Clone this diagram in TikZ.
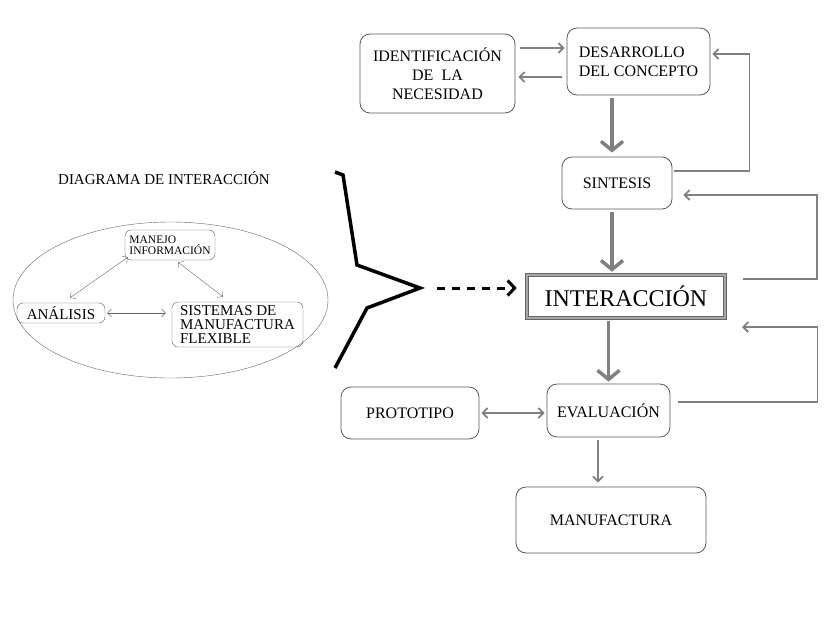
\documentclass[tikz,border=0pt]{standalone}
\usepackage{fontspec}
\setmainfont{Liberation Serif}
\usetikzlibrary{arrows.meta}
\begin{document}
\begin{tikzpicture}[x=1pt, y=-1pt, >={Straight Barb[length=5pt,width=10pt]},
  box/.style={draw=black!65, thick, rounded corners=10pt, align=center, inner sep=2pt, font=\fontsize{16}{19}\selectfont},
  smallbox/.style={draw=black!65, rounded corners=6pt, align=left, inner sep=1pt, font=\fontsize{15}{15}\selectfont},
  dline/.style={draw=gray, line width=1.8pt},
  bigflow/.style={draw=gray, line width=3.5pt, -{Straight Barb[length=9pt,width=22pt,line width=3.5pt]}},
  sarrow/.style={draw=black!60, <->, >={Straight Barb[length=4pt,width=8pt]}}]
\useasboundingbox (0,0) rectangle (831,625);

% main flow
\node (ident) at (437.5,73.5) [box, minimum width=155pt, minimum height=79pt]{IDENTIFICACIÓN\\DE~~LA\\NECESIDAD};
\node (des) at (638.5,61.5) [box, align=left, minimum width=143pt, minimum height=67pt]{DESARROLLO\\DEL CONCEPTO};
\node (sint) at (617,183) [box, minimum width=110pt, minimum height=52pt]{SINTESIS};
\node (inter) at (626,296.5) [draw=black!60, double=gray!70, double distance=2.5pt, line width=0.6pt, minimum width=198pt, minimum height=43pt, font=\fontsize{24}{24}\selectfont]{INTERACCIÓN};
\node (eval) at (608.5,410.5) [box, minimum width=123pt, minimum height=53pt]{EVALUACIÓN};
\node (proto) at (410,413) [box, minimum width=138pt, minimum height=52pt]{PROTOTIPO};
\node (manuf) at (611,520) [box, minimum width=190pt, minimum height=66pt]{MANUFACTURA};

\draw[dline,->, shorten <=5pt, shorten >=2pt]([yshift=13.5pt]des.west -| ident.east)--([yshift=13.5pt]des.west);
\draw[dline,->, shorten <=5pt, shorten >=3pt]([yshift=-15.5pt]des.west)--([yshift=-15.5pt]des.west -| ident.east);
\draw[bigflow, shorten <=3pt, shorten >=4pt]([xshift=-5pt]sint.north |- des.south)--([xshift=-5pt]sint.north);
\draw[bigflow, shorten <=3pt, shorten >=3pt]([xshift=-5pt]sint.south)--([xshift=-5pt]sint.south |- inter.north);
\draw[bigflow, shorten <=3pt, shorten >=2pt](eval.north |- inter.south)--(eval.north);
\draw[dline,->, shorten <=3pt, shorten >=4pt]([xshift=-10.5pt]eval.south)--([xshift=-10.5pt]eval.south |- manuf.north);
\draw[dline,<->, shorten <=2pt, shorten >=2pt](proto.east)--(proto.east -| eval.west);

% feedback loops
\coordinate (fback) at (742,327);
\draw[dline,->]([xshift=2pt,yshift=12pt]sint.east)--++(75,0)|-([xshift=2pt,yshift=7.5pt]des.east);
\draw[dline,->]([xshift=18pt,yshift=17.5pt]inter.east)--++(74,0)|-([xshift=11pt,yshift=-12pt]sint.east);
\draw[dline,->]([xshift=8pt,yshift=8.5pt]eval.east)--++(139,0)|-(fback);

% interaction diagram
\node (title) at (164,178)[font=\fontsize{15}{15}\selectfont]{DIAGRAMA DE INTERACCIÓN};
\draw[black!60](170.5,300) ellipse [x radius=157.5, y radius=78];
\node (manejo) at (170,245)[smallbox, minimum width=90pt, minimum height=30pt, font=\fontsize{11.5}{11}\selectfont]{MANEJO\\INFORMACIÓN};
\node (anal) at (61,313)[smallbox, minimum width=88pt, minimum height=20pt]{ANÁLISIS};
\node (sist) at (237.5,324.5)[smallbox, minimum width=131pt, minimum height=45pt, font=\fontsize{15}{14}\selectfont]{SISTEMAS DE\\MANUFACTURA\\FLEXIBLE};
\draw[sarrow]([xshift=3pt,yshift=3pt]manejo.south west)--([xshift=9pt,yshift=5pt]anal.north);
\draw[sarrow]([xshift=8pt,yshift=-2pt]manejo.south)--([xshift=-14.5pt,yshift=5pt]sist.north);
\draw[sarrow, shorten <=2pt, shorten >=6pt](anal.east)--(anal.east -| sist.west);

% bracket
\coordinate (tip) at (420,288);
\draw[line width=3.5pt, line join=miter](335,172)--(343,175)--(357,265)--(tip)--(367,308)--(335,368);
\draw[line width=3pt, dash pattern=on 8pt off 7pt, -{Straight Barb[length=7pt,width=15pt,line width=3pt]}, shorten <=17pt, shorten >=10pt](tip)--(tip -| inter.west);
\end{tikzpicture}
\end{document}
